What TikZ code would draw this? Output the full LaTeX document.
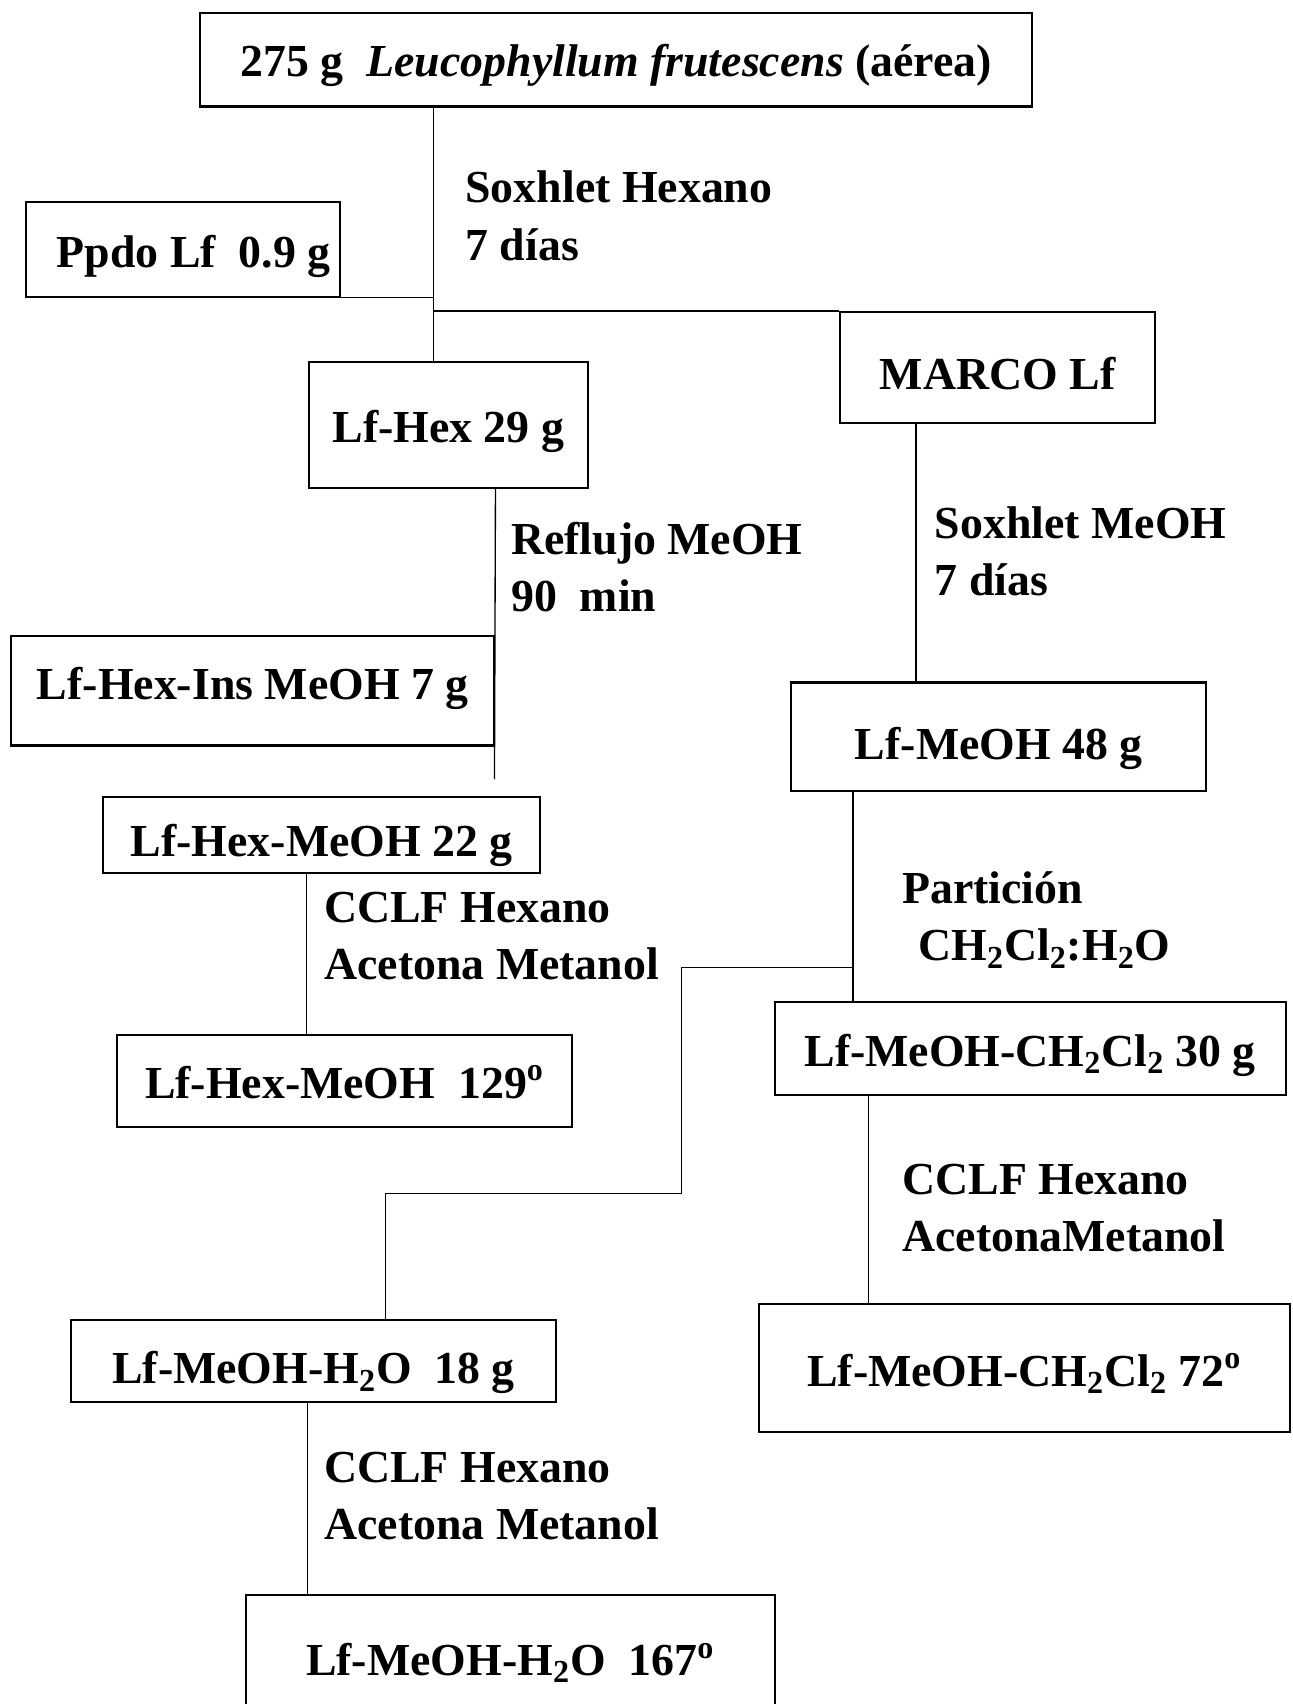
\documentclass[tikz,border=0pt]{standalone}
\usepackage{fontspec}
\setmainfont{Liberation Serif}

\begin{document}
\begin{tikzpicture}[x=0.02cm,y=-0.02cm,
    every node/.style={font=\fontsize{24}{30}\selectfont\bfseries},
    caja/.style={draw, line width=1.1pt, inner sep=0pt, align=center},
    bajar/.style 2 args={text height=#1, text depth=#2},
    etiqueta/.style={anchor=west, inner sep=0pt, align=left},
    linea/.style={line width=0.7pt}]
    \useasboundingbox (0,0) rectangle (1189,1568);

    % cajas
    \node[caja, bajar={19.9pt}{2.1pt}, minimum width=15.32cm, minimum height=1.72cm] (planta) at (567,55) {275 g\ \ \textit{Leucophyllum frutescens} (aérea)};
    \node[caja, bajar={20.4pt}{1.6pt}, minimum width=5.78cm, minimum height=1.74cm] (ppdo) at (168.5,229.5) {\hspace*{11pt}Ppdo Lf\ \ 0.9 g};
    \node[caja, bajar={23.5pt}{-1.5pt}, minimum width=5.80cm, minimum height=2.04cm] (marco) at (918,338) {MARCO Lf};
    \node[caja, bajar={20.4pt}{1.6pt}, minimum width=5.14cm, minimum height=2.32cm] (hex) at (412.5,391) {Lf-Hex 29 g};
    \node[caja, bajar={15.9pt}{6.1pt}, minimum width=8.90cm, minimum height=2.02cm] (hexins) at (232.5,635.5) {Lf-Hex-Ins MeOH 7 g};
    \node[caja, bajar={23.3pt}{-1.3pt}, minimum width=8.04cm, minimum height=1.40cm] (hexmeoh) at (296,768) {Lf-Hex-MeOH 22 g};
    \node[caja, bajar={20.1pt}{1.9pt}, minimum width=8.36cm, minimum height=1.70cm] (hexfr) at (317,994.5) {Lf-Hex-MeOH\ \ 129\textsuperscript{o}};
    \node[caja, bajar={23.3pt}{-1.3pt}, minimum width=7.64cm, minimum height=2.00cm] (meoh) at (919,678) {Lf-MeOH 48 g};
    \node[caja, bajar={20.4pt}{1.6pt}, minimum width=9.40cm, minimum height=1.72cm] (dcm) at (948,965) {Lf-MeOH-CH\textsubscript{2}Cl\textsubscript{2} 30 g};
    \node[caja, bajar={20.4pt}{1.6pt}, minimum width=9.78cm, minimum height=2.36cm] (dcmfr) at (942.5,1259) {Lf-MeOH-CH\textsubscript{2}Cl\textsubscript{2} 72\textsuperscript{o}};
    \node[caja, bajar={23.8pt}{-1.8pt}, minimum width=8.94cm, minimum height=1.50cm] (agua) at (288.5,1252.5) {Lf-MeOH-H\textsubscript{2}O\ \ 18 g};
    \node[caja, bajar={17pt}{5pt}, minimum width=9.74cm, minimum height=2.54cm] (aguafr) at (469.5,1531.5) {Lf-MeOH-H\textsubscript{2}O\ \ 167\textsuperscript{o}};

    % etiquetas
    \node[etiqueta] (soxhex) at (428,198.5) {Soxhlet Hexano\\7 días};
    \node[etiqueta] (reflujo) at (470,522) {Reflujo MeOH\\90\ \ min};
    \node[etiqueta] (soxmeoh) at (860,507) {Soxhlet MeOH\\7 días};
    \node[etiqueta] (cclfa) at (298,861.5) {CCLF Hexano\\Acetona Metanol};
    \node[etiqueta] (particion) at (830,846.5) {Partición\\\hspace{0.35em}CH\textsubscript{2}Cl\textsubscript{2}:H\textsubscript{2}O};
    \node[etiqueta] (cclfb) at (830,1111.5) {CCLF Hexano\\AcetonaMetanol};
    \node[etiqueta] (cclfc) at (298,1376.5) {CCLF Hexano\\Acetona Metanol};

    % ejes
    \coordinate (eje1) at (399,0);
    \coordinate (fin1) at (455,717);
    \coordinate (eje2) at (282,0);
    \coordinate (eje3) at (843,0);
    \coordinate (eje4) at (785,0);
    \coordinate (r1) at (785,890);
    \coordinate (r2) at (627,1098);
    \coordinate (eje5) at (355,0);
    \coordinate (eje6) at (799,0);
    \coordinate (eje7) at (283,0);

    \draw[linea] (eje1 |- planta.south) -- (eje1 |- hex.north);
    \draw[linea] (ppdo.south east) -- (eje1 |- ppdo.south);
    \draw[linea] (eje1 |- marco.north) -- (marco.north west);
    \draw[linea] (hexins.east |- hex.south) -- (fin1);
    \draw[linea] (eje2 |- hexmeoh.south) -- (eje2 |- hexfr.north);
    \draw[linea] (eje3 |- marco.south) -- (eje3 |- meoh.north);
    \draw[linea] (eje4 |- meoh.south) -- (eje4 |- dcm.north);
    \draw[linea] (r1) -| (r2) -| (eje5 |- agua.north);
    \draw[linea] (eje6 |- dcm.south) -- (eje6 |- dcmfr.north);
    \draw[linea] (eje7 |- agua.south) -- (eje7 |- aguafr.north);
\end{tikzpicture}
\end{document}
